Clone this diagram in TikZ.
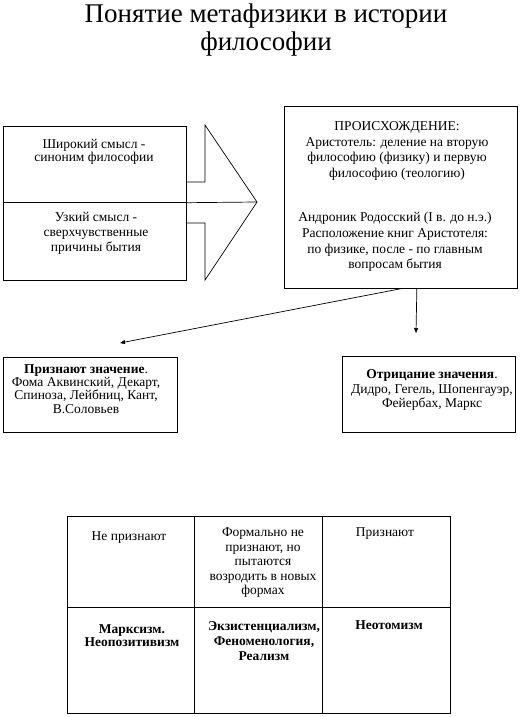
\documentclass[tikz,border=0pt]{standalone}
\usepackage{fontspec}
\setmainfont{Liberation Serif}
\usetikzlibrary{arrows.meta}

\begin{document}
\begin{tikzpicture}[x=1pt,y=-1pt,line width=0.7pt,
    every node/.style={font=\fontsize{13.5}{15}\selectfont,align=center,inner sep=0pt},
    box/.style={draw,fill=white,anchor=north west},
    tight/.style={font=\fontsize{13.5}{13.2}\selectfont},
    >={Triangle[length=5pt,width=4pt]}]
    \useasboundingbox (0,0) rectangle (520,717);
    \node (title)[font=\fontsize{27}{28}\selectfont] at (266,30) {Понятие метафизики в истории\\философии};

    % big arrow with two boxes
    \coordinate (tip) at (257,202);
    \draw[fill=white] (186,182) -- (205,182) -- (205,125) -- (tip)
        -- (205,280) -- (205,223) -- (186,223);
    \node (broad)[box,minimum width=183,minimum height=76] at (3,126) {};
    \node (narrow)[box,minimum width=183,minimum height=78] at (3,202) {};
    \draw (broad.south east) -- (tip);
    \node[tight] at (94,152) {Широкий смысл -\\синоним философии};
    \node at (96,233) {Узкий смысл -\\сверхчувственные\\причины бытия};

    \node (origin)[box,minimum width=233,minimum height=182] at (284,106) {};
    \node[font=\fontsize{13.5}{15.8}\selectfont] at (397,151) {ПРОИСХОЖДЕНИЕ:\\Аристотель: деление на вторую\\философию (физику) и первую\\философию (теологию)};
    \node[font=\fontsize{13.5}{15.6}\selectfont] at (395,242) {Андроник Родосский (I в. до н.э.)\\Расположение книг Аристотеля:\\по физике, после - по главным\\вопросам бытия};

    \node (accept)[box,minimum width=174,minimum height=75] at (3,357) {};
    \node[tight] at (86,389) {\textbf{Признают значение}.\\Фома Аквинский, Декарт,\\Спиноза, Лейбниц, Кант,\\В.Соловьев};
    \node (deny)[box,minimum width=173,minimum height=76] at (342,356) {};
    \node[font=\fontsize{13.5}{14.5}\selectfont] at (432,390) {\textbf{Отрицание значения}.\\Дидро, Гегель, Шопенгауэр,\\Фейербах, Маркс};

    \coordinate (acceptend) at (120,343);
    \coordinate (denyend) at (416,333);
    \draw[->] (origin.south) -- (acceptend);
    \draw[->] ([xshift=16pt]origin.south) -- (denyend);

    % table
    \draw (67,516) rectangle (450,713);
    \draw (194,516) -- (194,713) (322,516) -- (322,713) (67,607) -- (450,607);
    \node at (129,538) {Не признают};
    \node[font=\fontsize{13.5}{14.5}\selectfont] at (263,563) {Формально не\\признают, но\\пытаются\\возродить в новых\\формах};
    \node at (385,534) {Признают};
    \node[tight] at (132,636) {\textbf{Марксизм.}\\\textbf{Неопозитивизм}};
    \node at (264,641) {\textbf{Экзистенциализм,}\\\textbf{Феноменология,}\\\textbf{Реализм}};
    \node at (389,625) {\textbf{Неотомизм}};
\end{tikzpicture}
\end{document}
